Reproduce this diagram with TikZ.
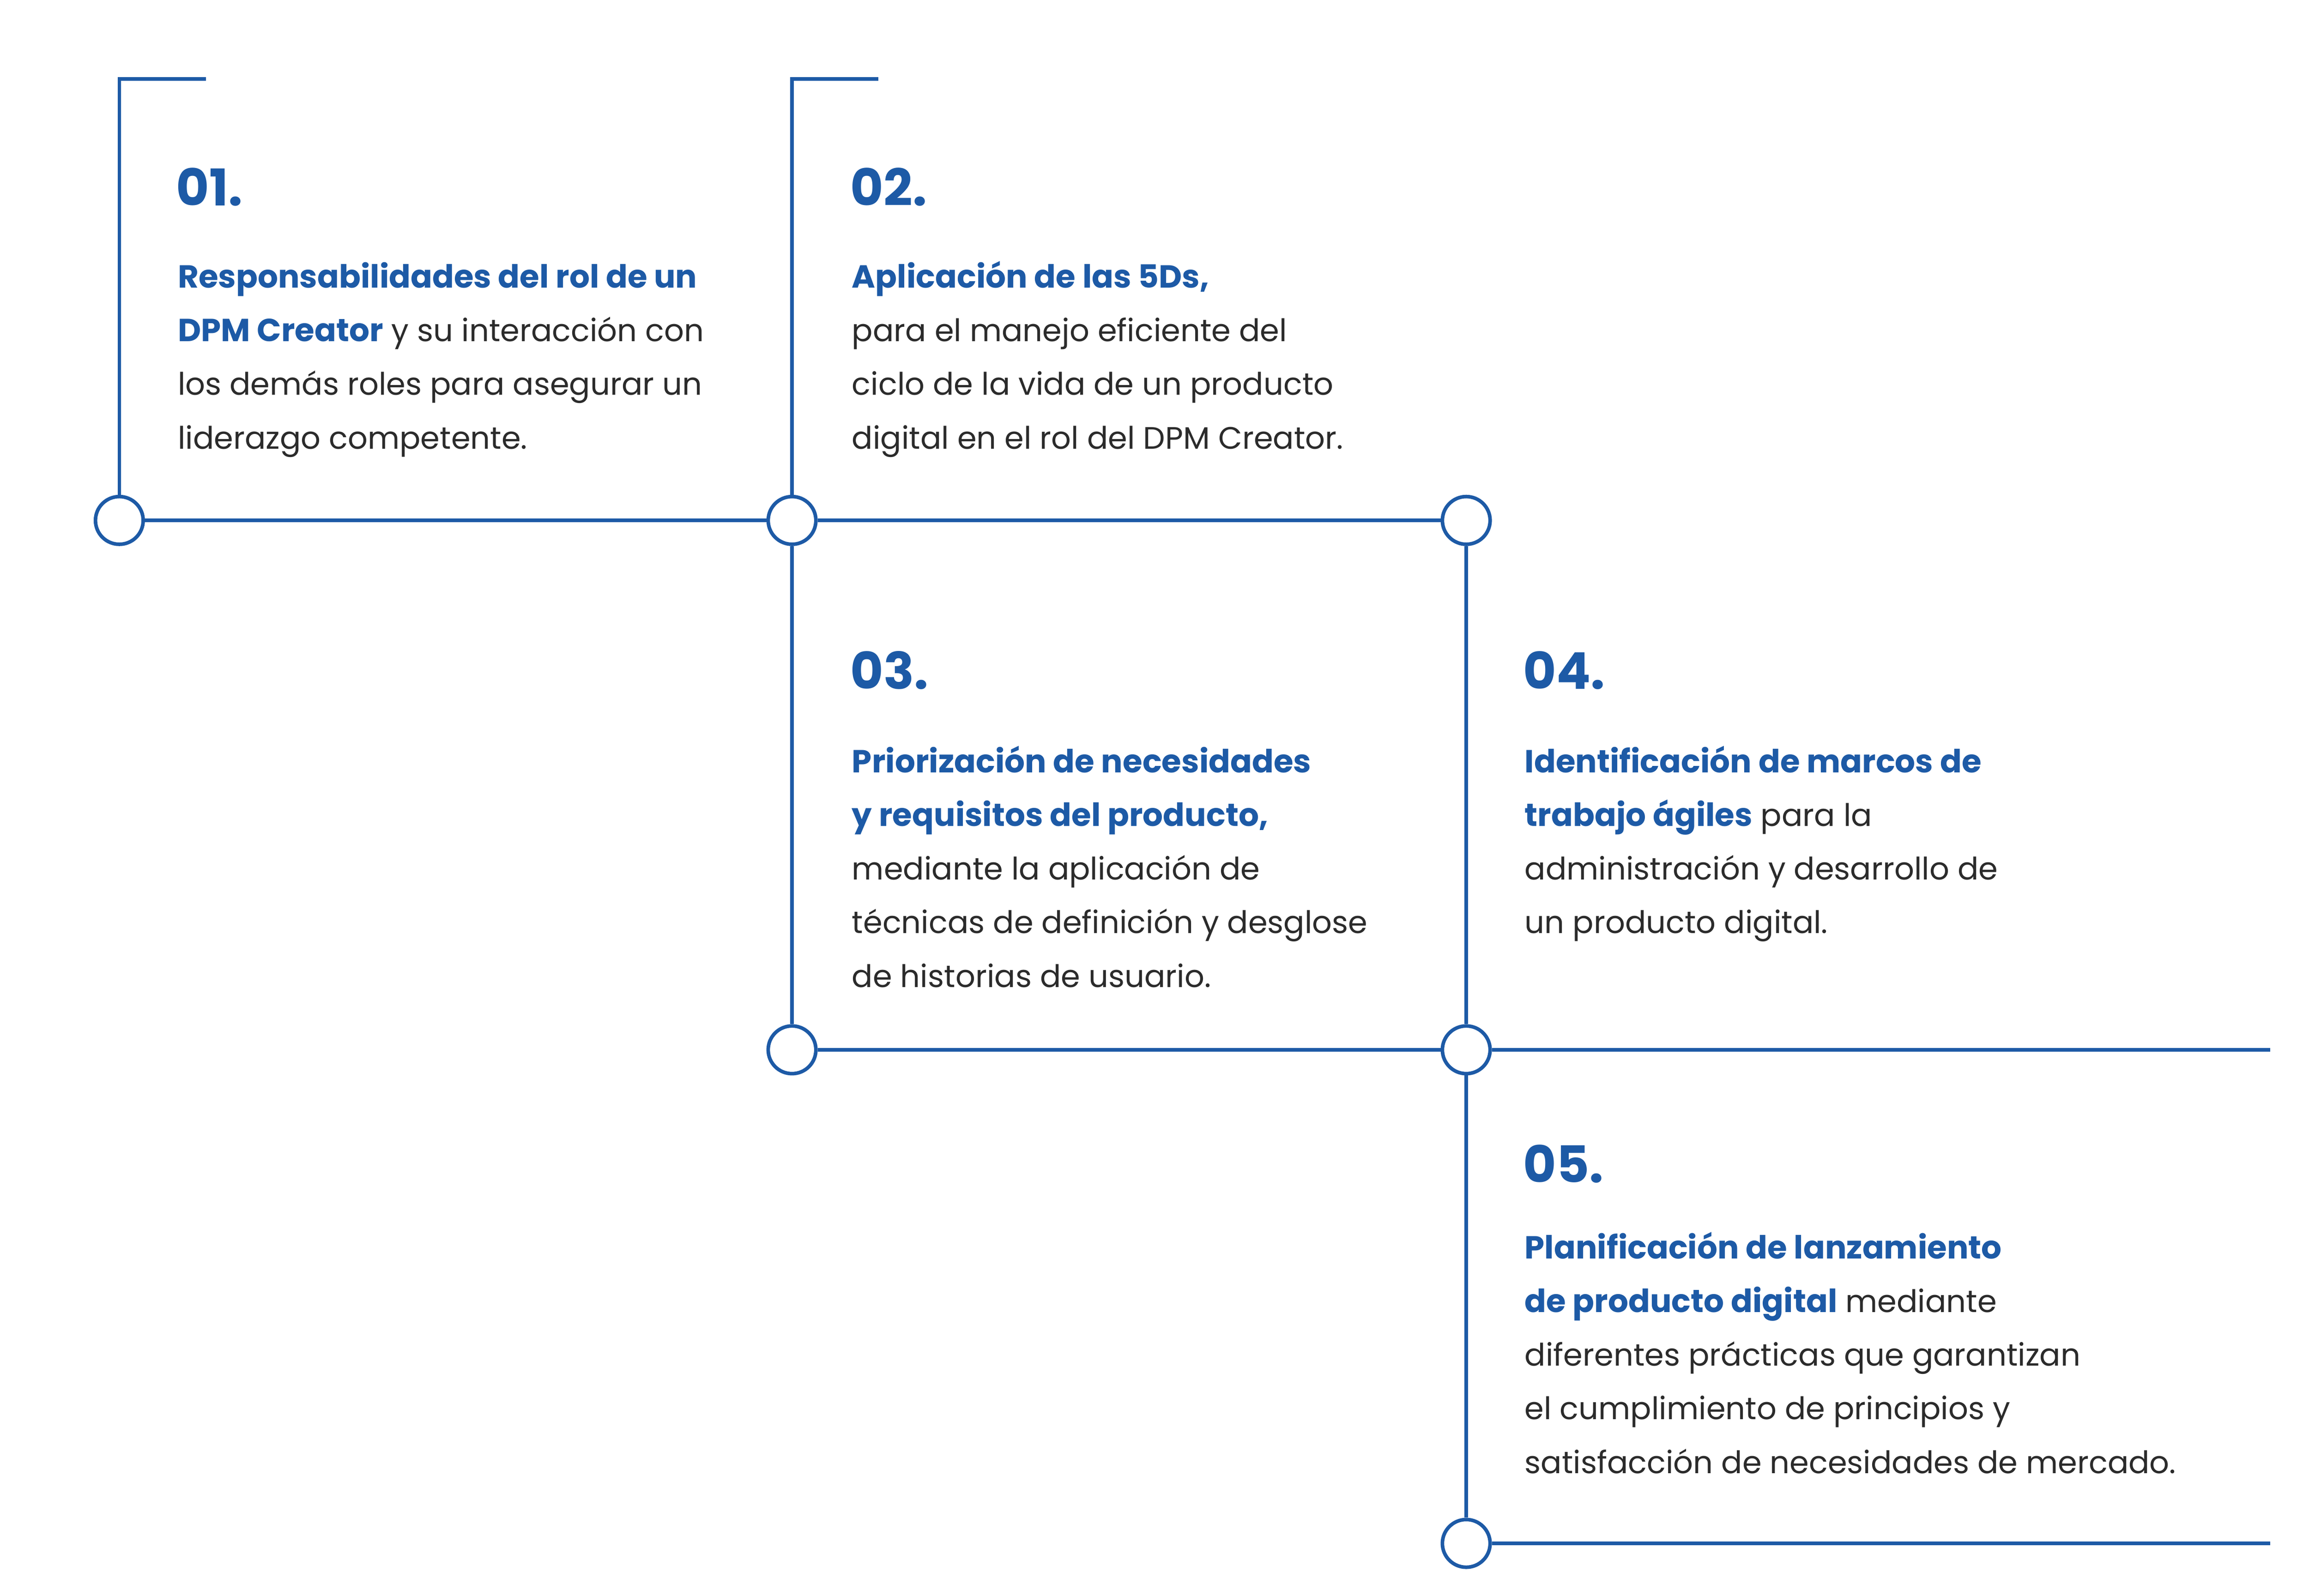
\documentclass[tikz,border=0pt]{standalone}
\usepackage{fontspec}
\setmainfont{Poppins}
\definecolor{bl}{HTML}{1D5AA6}
\definecolor{tx}{HTML}{2B2B2B}
\newcommand{\hb}[1]{\textcolor{bl}{\fontsize{21.4}{24}\selectfont\bfseries #1}}
\begin{document}
\begin{tikzpicture}[x=1pt,y=-1pt,
  ln/.style={draw=bl,line width=2.4pt},
  dot/.style={circle,draw=bl,line width=2.4pt,fill=white,minimum size=32pt,inner sep=0pt},
  num/.style={anchor=base west,inner sep=0pt,text=bl,font=\fontsize{34}{34}\selectfont\bfseries},
  bt/.style={anchor=base west,inner sep=0pt,text=tx,font=\fontsize{20.8}{24}\selectfont},
]
\useasboundingbox (0,0) rectangle (1548,1070);
\node[dot] (c1) at (80,349) {};
\node[dot] (c2) at (531,349) {};
\node[dot] (c3) at (983,349) {};
\node[dot] (c4) at (531,704) {};
\node[dot] (c5) at (983,704) {};
\node[dot] (c6) at (983,1035) {};
\coordinate (t1a) at (80,53); \coordinate (t1b) at (138,53);
\coordinate (t2a) at (531,53); \coordinate (t2b) at (589,53);
\coordinate (e1) at (1522,704); \coordinate (e2) at (1522,1035);
\draw[ln] (t1b) -- (t1a) -- (c1.north);
\draw[ln] (t2b) -- (t2a) -- (c2.north);
\draw[ln] (c1) -- (c2); \draw[ln] (c2) -- (c3);
\draw[ln] (c2) -- (c4); \draw[ln] (c3) -- (c5);
\draw[ln] (c4) -- (c5); \draw[ln] (c5) -- (e1);
\draw[ln] (c5) -- (c6); \draw[ln] (c6) -- (e2);
% block 1
\node[num] (n1) at (118,138) {01.};
\node[bt] (a1) at (119,193) {\hb{Responsabilidades del rol de un}};
\node[bt] (a2) at (119,229) {\hb{DPM Creator} y su interacción con};
\node[bt] (a3) at (119,265) {los demás roles para asegurar un};
\node[bt] (a4) at (119,301) {liderazgo competente.};
% block 2
\node[num] (n2) at (570,138) {02.};
\node[bt] (b1) at (571,193) {\hb{Aplicación de las 5Ds,}};
\node[bt] (b2) at (571,229) {para el manejo eficiente del};
\node[bt] (b3) at (571,265) {ciclo de la vida de un producto};
\node[bt] (b4) at (571,301) {digital en el rol del DPM Creator.};
% block 3
\node[num] (n3) at (570,462) {03.};
\node[bt] (d1) at (571,518) {\hb{Priorización de necesidades}};
\node[bt] (d2) at (571,554) {\hb{y requisitos del producto,}};
\node[bt] (d3) at (571,590) {mediante la aplicación de};
\node[bt] (d4) at (571,626) {técnicas de definición y desglose};
\node[bt] (d5) at (571,662) {de historias de usuario.};
% block 4
\node[num] (n4) at (1021,462) {04.};
\node[bt] (f1) at (1022,518) {\hb{Identificación de marcos de}};
\node[bt] (f2) at (1022,554) {\hb{trabajo ágiles} para la};
\node[bt] (f3) at (1022,590) {administración y desarrollo de};
\node[bt] (f4) at (1022,626) {un producto digital.};
% block 5
\node[num] (n5) at (1021,793) {05.};
\node[bt] (g1) at (1022,844) {\hb{Planificación de lanzamiento}};
\node[bt] (g2) at (1022,880) {\hb{de producto digital} mediante};
\node[bt] (g3) at (1022,916) {diferentes prácticas que garantizan};
\node[bt] (g4) at (1022,952) {el cumplimiento de principios y};
\node[bt] (g5) at (1022,988) {satisfacción de necesidades de mercado.};
\end{tikzpicture}
\end{document}
